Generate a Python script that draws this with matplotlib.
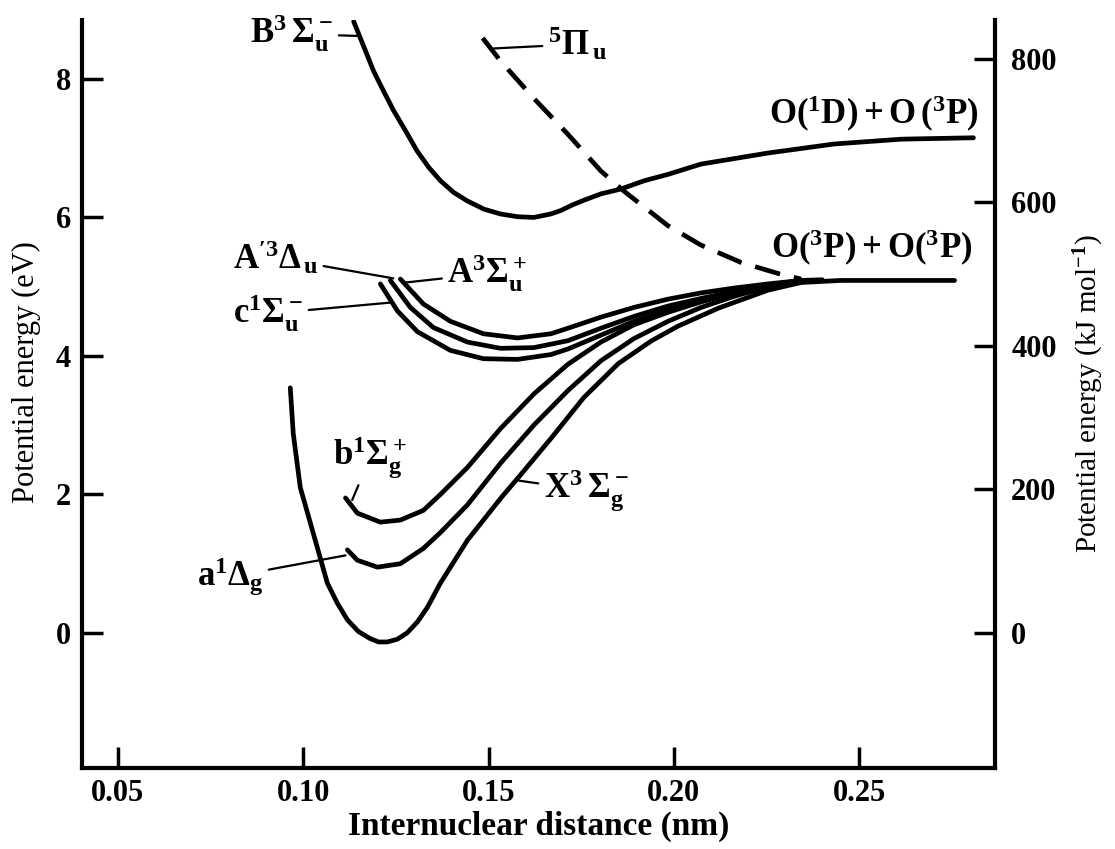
import numpy as np
import matplotlib
matplotlib.use('Agg')
import matplotlib.pyplot as plt

plt.rcParams['font.family'] = 'Liberation Serif'
plt.rcParams['mathtext.fontset'] = 'custom'
plt.rcParams['mathtext.rm'] = 'Liberation Serif:bold'
plt.rcParams['mathtext.it'] = 'Liberation Serif:bold'
plt.rcParams['mathtext.bf'] = 'Liberation Serif:bold'

# potential curves of O2 (r in nm, E in eV)
X_r = [0.0965, 0.0973, 0.0992, 0.1027, 0.1065, 0.1092, 0.1119, 0.1149, 0.118, 0.1203, 0.1227, 0.1254,
       0.128, 0.1308, 0.1335, 0.137, 0.1443, 0.1535, 0.1589, 0.167, 0.1757, 0.185, 0.194, 0.2011,
       0.212, 0.2254, 0.2343, 0.245, 0.26, 0.2757]
X_e = [3.54, 2.88, 2.10, 1.44, 0.72, 0.43, 0.19, 0.02, -0.08, -0.13, -0.13, -0.09,
       0.0, 0.16, 0.37, 0.72, 1.34, 1.96, 2.30, 2.82, 3.40, 3.89, 4.22, 4.43,
       4.69, 4.95, 5.06, 5.09, 5.09, 5.09]

a_r = [0.1119, 0.1146, 0.120, 0.1262, 0.1324, 0.137, 0.1443, 0.1532, 0.1622, 0.1714, 0.1803, 0.1892,
       0.1984, 0.2073, 0.2162, 0.2254, 0.2343]
a_e = [1.20, 1.05, 0.95, 1.00, 1.22, 1.45, 1.85, 2.45, 3.00, 3.50, 3.93, 4.25,
       4.50, 4.70, 4.86, 5.00, 5.09]

b_r = [0.1114, 0.1146, 0.1208, 0.1262, 0.1324, 0.137, 0.1443, 0.1532, 0.1622, 0.1714, 0.1803, 0.1892,
       0.1984, 0.2073, 0.2162, 0.2254, 0.2343]
b_e = [1.95, 1.73, 1.60, 1.63, 1.77, 2.00, 2.39, 2.95, 3.45, 3.88, 4.20, 4.45,
       4.63, 4.78, 4.91, 5.02, 5.09]

c_r = [0.1208, 0.1254, 0.1308, 0.1397, 0.1486, 0.1578, 0.1668, 0.1714, 0.1803, 0.1892, 0.1984, 0.2073,
       0.2162, 0.2254, 0.2343, 0.24]
c_e = [5.04, 4.65, 4.35, 4.08, 3.96, 3.95, 4.02, 4.10, 4.30, 4.50, 4.66, 4.79,
       4.90, 5.00, 5.07, 5.09]

Ap_r = [0.1235, 0.1289, 0.1351, 0.1443, 0.1532, 0.1622, 0.1714, 0.1803, 0.1892, 0.1984, 0.2073, 0.2162,
        0.2254, 0.2343, 0.24]
Ap_e = [5.09, 4.70, 4.41, 4.20, 4.11, 4.12, 4.22, 4.40, 4.57, 4.72, 4.83, 4.93,
        5.02, 5.08, 5.09]

A_r = [0.1262, 0.1324, 0.1397, 0.1486, 0.1578, 0.1668, 0.1714, 0.1803, 0.1892, 0.1984, 0.2073, 0.2162,
       0.2254, 0.2343, 0.24]
A_e = [5.11, 4.75, 4.50, 4.32, 4.26, 4.32, 4.40, 4.56, 4.70, 4.82, 4.91, 4.98,
       5.04, 5.09, 5.10]

B_r = [0.1136, 0.1154, 0.1172, 0.1190, 0.1217, 0.1244, 0.1276, 0.1307, 0.1339, 0.1370, 0.1406, 0.1442,
       0.1487, 0.1532, 0.1578, 0.1622, 0.1668, 0.1695, 0.1726, 0.1758, 0.1803, 0.1857, 0.1920, 0.1983,
       0.2073, 0.2254, 0.2432, 0.2614, 0.2808]
B_e = [8.83, 8.59, 8.35, 8.11, 7.82, 7.54, 7.25, 6.96, 6.72, 6.53, 6.36, 6.24,
       6.12, 6.05, 6.01, 6.00, 6.05, 6.10, 6.18, 6.25, 6.34, 6.41, 6.53, 6.62,
       6.77, 6.93, 7.06, 7.13, 7.15]

Pi_r = [0.1484, 0.1532, 0.1622, 0.1714, 0.1803, 0.1865, 0.1984, 0.2073, 0.2181, 0.2281, 0.2343]
Pi_e = [8.59, 8.26, 7.72, 7.20, 6.67, 6.38, 5.88, 5.60, 5.35, 5.19, 5.11]

curves = [(X_r, X_e), (a_r, a_e), (b_r, b_e), (c_r, c_e), (Ap_r, Ap_e), (A_r, A_e), (B_r, B_e)]

# state labels: text, text position, point on curve, alignment
labels = [
    (r'$\mathrm{B^3\,\Sigma_u^-}$', (0.1081, 8.65), (0.1150, 8.62), 'right'),
    (r'$\mathrm{^5\Pi_{\,u}}$', (0.1660, 8.50), (0.1514, 8.44), 'left'),
    (r"$\mathrm{A^{\prime 3}\Delta_{\,u}}$", (0.1040, 5.42), (0.1243, 5.12), 'right'),
    (r'$\mathrm{A^3\Sigma_u^+}$', (0.1389, 5.19), (0.1276, 5.06), 'left'),
    (r'$\mathrm{c^1\Sigma_u^-}$', (0.1000, 4.61), (0.1235, 4.77), 'right'),
    (r'$\mathrm{b^1\Sigma_g^+}$', (0.1081, 2.54), (0.1132, 1.92), 'left'),
    (r'$\mathrm{a^1\Delta_g}$', (0.0892, 0.81), (0.1114, 1.12), 'right'),
    (r'$\mathrm{X^3\,\Sigma_g^-}$', (0.1649, 2.06), (0.1581, 2.20), 'left'),
]
limits = [
    (r'$\mathrm{O(^1D)+O\,(^3P)}$', (0.2257, 7.49)),
    (r'$\mathrm{O(^3P)+O(^3P)}$', (0.2262, 5.56)),
]

fig = plt.figure(figsize=(11.15, 8.49), dpi=100)
ax = fig.add_axes([0.0735, 0.0954, 0.8185, 0.881])

for r, e in curves:
    ax.plot(r, e, color='k', lw=3.4, solid_capstyle='round', solid_joinstyle='round')
ax.plot(Pi_r, Pi_e, color='k', lw=3.4, dashes=(5.5, 3.0))

for txt, pos, pt, ha in labels:
    ax.annotate(txt, xy=pt, xytext=pos, ha=ha, va='center', fontsize=25,
                arrowprops=dict(arrowstyle='-', lw=1.6, color='k', shrinkA=2, shrinkB=0))
for txt, pos in limits:
    ax.text(pos[0], pos[1], txt, ha='left', va='center', fontsize=25)

ax.set_xlim(0.0403, 0.2865)
ax.set_ylim(-1.95, 8.85)
ax.set_xticks([0.05, 0.10, 0.15, 0.20, 0.25])
ax.set_xticklabels(['0.05', '0.10', '0.15', '0.20', '0.25'])
ax.set_yticks([0, 2, 4, 6, 8])
ax.spines['top'].set_visible(False)
ax.spines['right'].set_visible(False)
for s in ['left', 'bottom']:
    ax.spines[s].set_linewidth(3)
ax.tick_params(direction='in', length=15, width=2.5, labelsize=22, pad=8)
for t in ax.get_xticklabels() + ax.get_yticklabels():
    t.set_fontweight('bold')
ax.set_xlabel('Internuclear distance (nm)', fontsize=24, fontweight='bold', labelpad=2)
ax.set_ylabel('Potential energy (eV)', fontsize=22)
ax.yaxis.set_label_coords(-0.045, 0.53)

sec = ax.secondary_yaxis('right', functions=(lambda e: e * 96.485, lambda k: k / 96.485))
sec.set_yticks([0, 200, 400, 600, 800])
sec.spines['right'].set_linewidth(3)
sec.tick_params(direction='in', length=15, width=2.5, labelsize=22, pad=12)
for t in sec.get_yticklabels():
    t.set_fontweight('bold')
sec.set_ylabel(r'Potential energy (kJ mol$^{\mathbf{-1}}$)', fontsize=21, labelpad=11)

fig.savefig('out.png', dpi=100)
